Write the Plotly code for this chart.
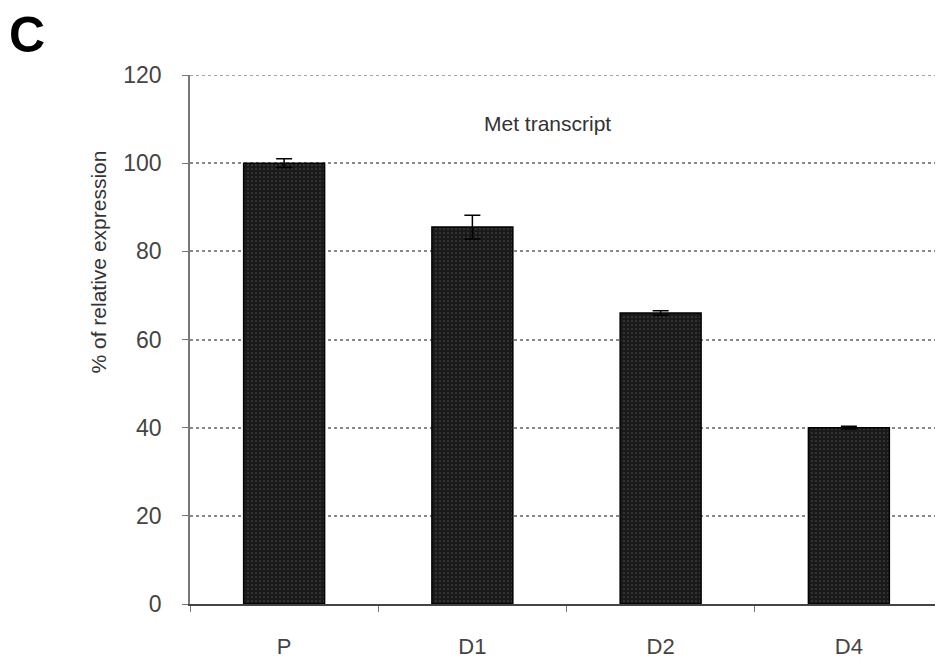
import plotly.graph_objects as go

categories = ["P", "D1", "D2", "D4"]
values = [100, 85.5, 66, 40]
errors = [1.0, 2.7, 0.5, 0.3]
y_ticks = [0, 20, 40, 60, 80, 100, 120]

FIG_W, FIG_H = 935, 656   # page body has an 8px margin
ML, MR, MT, MB = 182, 0, 67, 60
PW = FIG_W - ML - MR
PH = FIG_H - MT - MB

fam = "Liberation Sans, Arial, sans-serif"
font = dict(family=fam, size=22, color="#444444")

fig = go.Figure()
fig.add_trace(go.Bar(
    x=categories, y=values,
    width=0.43,
    marker=dict(color="#262626", line=dict(color="#000000", width=1.5),
                pattern=dict(shape=".", fgcolor="#777777", bgcolor="#1a1a1a", size=4, solidity=0.15)),
    error_y=dict(type="data", array=errors, visible=True, color="#000000", thickness=1.5, width=8),
    showlegend=False,
))

def px_to_paper(x, y):
    return (x - ML) / PW, (FIG_H - MB - y) / PH

ylab_x, ylab_y = px_to_paper(76, 254)
c_x, c_y = px_to_paper(-1, -3)

fig.update_layout(
    width=FIG_W, height=FIG_H,
    margin=dict(l=ML, r=MR, t=MT, b=MB),
    paper_bgcolor="white", plot_bgcolor="white",
    font=font,
    bargap=0.57,
    xaxis=dict(
        type="category", showgrid=False,
        showline=True, linecolor="#444444", linewidth=2,
        ticks="outside", tickson="boundaries", ticklen=6, tickcolor="#777777",
        tickfont=font, ticklabelstandoff=22,
    ),
    yaxis=dict(
        range=[0, 120], tickvals=y_ticks,
        showgrid=True, gridcolor="#888888", griddash="dot", gridwidth=1.5,
        showline=True, linecolor="#777777", linewidth=1.5,
        ticks="outside", ticklen=6, tickcolor="#777777",
        tickfont=dict(family=fam, size=23, color="#444444"), ticklabelstandoff=16, zeroline=False,
    ),
    shapes=[dict(type="line", xref="paper", yref="y", x0=0, x1=1, y0=120, y1=120,
                 line=dict(color="#888888", width=1.5, dash="dot"))],
    annotations=[
        dict(text="Met transcript", x=0.475, xref="paper", y=109, yref="y",
             showarrow=False, font=dict(family=fam, size=21, color="#333333")),
        dict(text="% of relative expression", x=ylab_x, xref="paper", y=ylab_y, yref="paper",
             showarrow=False, textangle=-90,
             font=dict(family=fam, size=21, color="#333333")),
        dict(text="<b>C</b>", x=c_x, y=c_y, xref="paper", yref="paper", showarrow=False,
             font=dict(family=fam, size=50, color="#000000")),
    ],
)

fig.write_html("out.html")
